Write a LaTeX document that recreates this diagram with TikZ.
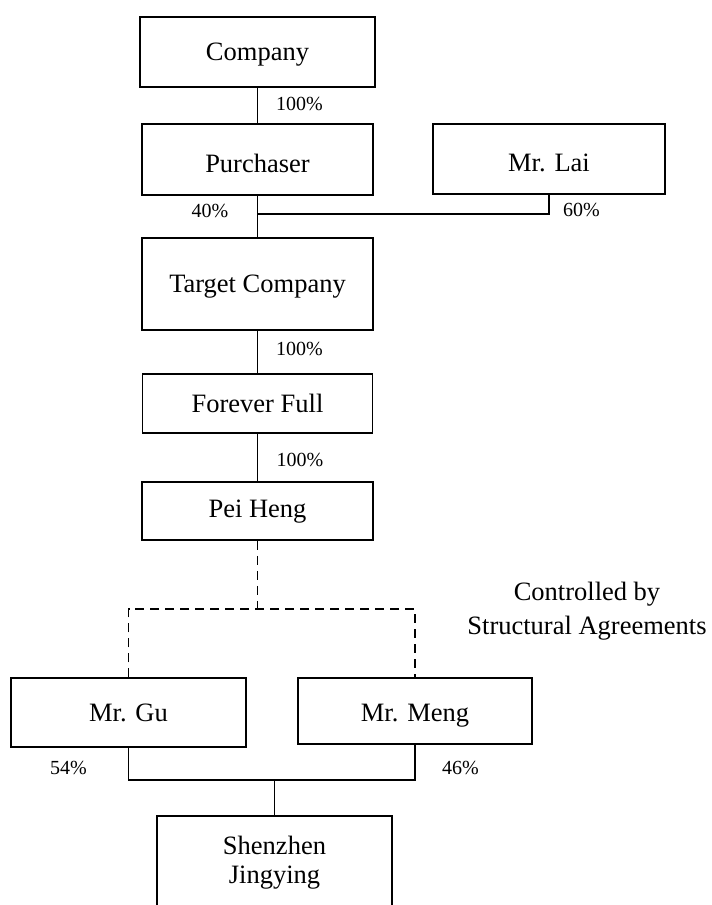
\documentclass[tikz,border=0pt]{standalone}
\usepackage{fontspec}
\setmainfont{Liberation Serif}

\begin{document}
\begin{tikzpicture}[x=0.5pt, y=-0.5pt, line width=0.75pt,
                    agreement/.style={dash pattern=on 4.5pt off 3pt}]
\useasboundingbox (0,0) rectangle (712,905);
\clip (0,0) rectangle (712,905);

\begin{scope}[every node/.style={draw, rectangle, inner sep=0pt, text height=8.8pt, text depth=0pt,
                                 font=\fontsize{13.25}{14.5}\selectfont}]
  \node[minimum width=117.5pt, minimum height=35pt] (company) at (257.5,52) {Company};
    \node[minimum width=115.5pt, minimum height=35.5pt, text height=12.8pt] (purchaser) at (257.5,159.5) {Purchaser};
    \node[minimum width=116pt, minimum height=35pt, text height=12.3pt] (lai) at (549,159) {Mr. Lai};
    \node[minimum width=115.5pt, minimum height=46pt] (target) at (257.5,284) {Target Company};
    \node[minimum width=115pt, minimum height=29.5pt] (forever) at (257.5,403.5) {Forever Full};
    \node[minimum width=115.5pt, minimum height=29pt, text height=6.3pt] (peiheng) at (257.5,511) {Pei Heng};
    \node[minimum width=117.5pt, minimum height=34.5pt] (gu) at (128.5,712.5) {Mr. Gu};
    \node[minimum width=117pt, minimum height=33pt, text height=10.8pt] (meng) at (415,711) {Mr. Meng};
    \node[align=center, anchor=north, minimum width=117.5pt, inner ysep=10pt, text height=, text depth=30pt] (shenzhen) at (274.5,815) {Shenzhen\\Jingying};
\end{scope}

\begin{scope}[every node/.style={inner sep=0pt, font=\fontsize{10}{12}\selectfont}]
    \node (pc1) at (299.5,104) {100\%};
    \node (p40) at (210,211) {40\%};
    \node (p60) at (581.5,210) {60\%};
    \node (pc2) at (299.5,349) {100\%};
    \node (pc3) at (300,460) {100\%};
    \node (p54) at (68.5,768) {54\%};
    \node (p46) at (460.5,768) {46\%};
    \node[font=\fontsize{13.25}{17}\selectfont, align=center] (ctrl) at (587,611) {Controlled by\\Structural Agreements};
\end{scope}

\coordinate (join) at (257.5,214);
\coordinate (split) at (257.5,609);
\coordinate (merge) at (274.5,780);

\draw (company) -- (purchaser);
\draw (purchaser) -- (target);
\draw (lai.south) |- (join);
\draw (target) -- (forever);
\draw (forever) -- (peiheng);
\draw[agreement] (peiheng) -- (split);
\draw[agreement] (gu.north) |- (split) -| (meng.north);
\draw (gu.south) |- (merge) -| (meng.south);
\draw (merge) -- (shenzhen.north);

\end{tikzpicture}
\end{document}
